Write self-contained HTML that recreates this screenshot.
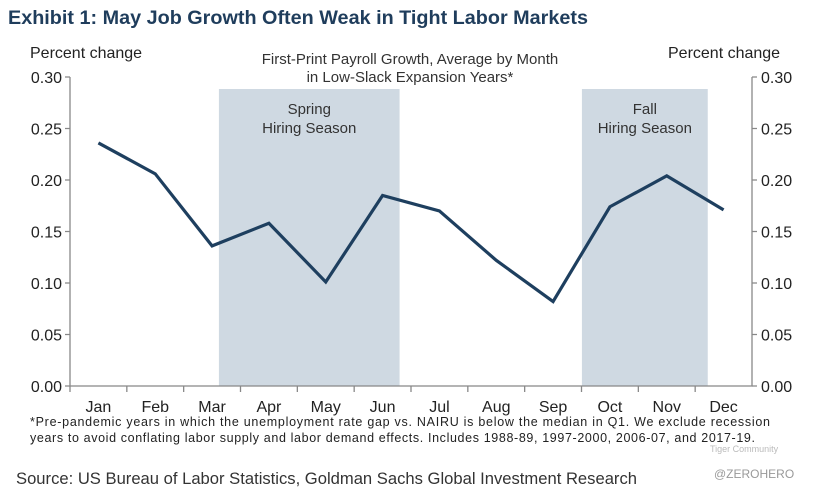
<!DOCTYPE html>
<html><head><meta charset="utf-8"><style>
body{margin:0;background:#fff;font-family:"Liberation Sans",sans-serif;}
svg text{font-family:"Liberation Sans",sans-serif;}
</style></head><body>
<svg width="817" height="492" viewBox="0 0 817 492">
<text x="8" y="24" font-size="19" font-weight="bold" fill="#1f3d5c" textLength="580" lengthAdjust="spacingAndGlyphs">Exhibit 1: May Job Growth Often Weak in Tight Labor Markets</text>
<text x="30" y="58" font-size="16" fill="#222">Percent change</text>
<text x="668" y="58" font-size="16" fill="#222">Percent change</text>
<text x="410" y="64" font-size="15" fill="#333" text-anchor="middle">First-Print Payroll Growth, Average  by Month</text>
<text x="410" y="82" font-size="15" fill="#333" text-anchor="middle">in Low-Slack Expansion Years*</text>
<g id="shades"></g>
<g id="axes"></g>
<g id="series"></g>
<text x="30" y="426" font-size="12.5" fill="#222" textLength="740">*Pre-pandemic years in which the unemployment rate gap vs. NAIRU is below the median in Q1. We exclude recession</text>
<text x="30" y="442" font-size="12.5" fill="#222" textLength="725">years to avoid conflating labor supply and labor demand effects. Includes 1988-89, 1997-2000, 2006-07, and 2017-19.</text>
<text x="16" y="484" font-size="17" fill="#333" textLength="621" lengthAdjust="spacingAndGlyphs">Source: US Bureau of Labor Statistics, Goldman Sachs Global Investment Research</text>
<text x="710" y="452" font-size="9" fill="#bbb">Tiger Community</text>
<text x="714" y="478" font-size="12" fill="#999">@ZEROHERO</text>
</svg>
<script>
const months=["Jan","Feb","Mar","Apr","May","Jun","Jul","Aug","Sep","Oct","Nov","Dec"];
const values=[0.236,0.206,0.136,0.158,0.101,0.185,0.170,0.122,0.082,0.174,0.204,0.171];
const yTicks=[0,0.05,0.10,0.15,0.20,0.25,0.30];
const seasons=[{name:"spring",from:"Apr",to:"Jun",pl:50,pr:17,l1:"Spring",l2:"Hiring Season"},{name:"fall",from:"Oct",to:"Nov",pl:28,pr:41,l1:"Fall",l2:"Hiring Season"}];
const L=70,R=752,T=77,B=386,NS="http://www.w3.org/2000/svg";
const cw=(R-L)/months.length;
const x=i=>L+cw*(i+0.5);
const y=v=>B-(v/0.30)*(B-T);
function mk(tag,attrs,parent,txt){const e=document.createElementNS(NS,tag);for(const k in attrs)e.setAttribute(k,attrs[k]);if(txt!=null)e.textContent=txt;document.getElementById(parent).appendChild(e);return e;}
seasons.forEach(s=>{
 const a=months.indexOf(s.from),b=months.indexOf(s.to);
 const x0=x(a)-s.pl,x1=x(b)+s.pr;
 const r=mk("rect",{x:x0,y:89,width:x1-x0,height:B-89,fill:"#cfd9e2"},"shades");
 
 
 const t1=mk("text",{x:(x0+x1)/2,y:114,"font-size":15,fill:"#333","text-anchor":"middle"},"shades",s.l1);
 
 
 const t2=mk("text",{x:(x0+x1)/2,y:133,"font-size":15,fill:"#333","text-anchor":"middle"},"shades",s.l2);
 
 
});
const ax=mk("path",{d:`M${L},${T}V${B}H${R}V${T}`,stroke:"#888","stroke-width":1.3,fill:"none"},"axes");


yTicks.forEach(v=>{
 mk("path",{d:`M${L-5},${y(v)}H${L}M${R},${y(v)}H${R+5}`,stroke:"#888","stroke-width":1.3},"axes");
 const tl=mk("text",{x:L-8,y:y(v)+6,"font-size":16,fill:"#222","text-anchor":"end"},"axes",v.toFixed(2));
 
 
 const tr=mk("text",{x:R+9,y:y(v)+6,"font-size":16,fill:"#222"},"axes",v.toFixed(2));
 
 
});
months.forEach((m,i)=>{
 mk("path",{d:`M${L+cw*i},${B}v6`,stroke:"#888","stroke-width":1.3},"axes");
 const t=mk("text",{x:x(i),y:B+26,"font-size":16,fill:"#222","text-anchor":"middle"},"axes",m);
 
 
});
const line=mk("polyline",{points:values.map((v,i)=>x(i)+","+y(v)).join(" "),fill:"none",stroke:"#1e3f5f","stroke-width":3.2,"stroke-linejoin":"miter"},"series");


</script>
</body></html>
